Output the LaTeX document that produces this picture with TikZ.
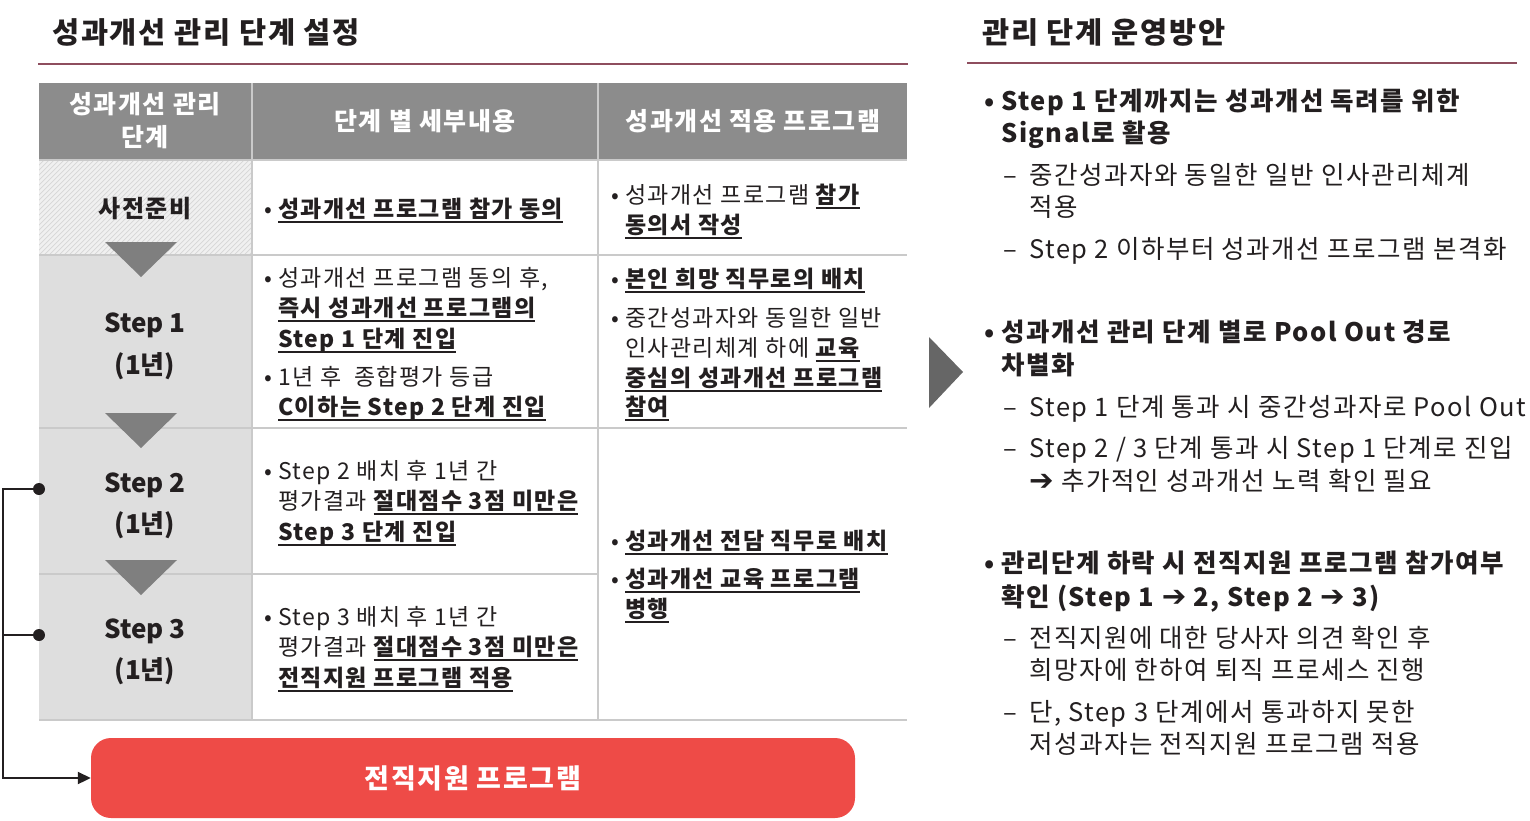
\documentclass[tikz,border=0pt]{standalone}
\usepackage{fontspec}
\setmainfont{Noto Sans CJK KR}[LetterSpace=6]
\newfontfamily\plainf{Noto Sans CJK KR}
\newfontfamily\symf{DejaVu Sans}
\usetikzlibrary{arrows.meta}
\definecolor{txt}{HTML}{231F20}
\definecolor{maroon}{HTML}{8E4E5E}
\definecolor{hdr}{HTML}{8C8C8C}
\definecolor{grid}{HTML}{CACACA}
\definecolor{stepbg}{HTML}{DEDEDE}
\definecolor{tri}{HTML}{7F7F7F}
\definecolor{redbg}{HTML}{EE4B47}
\definecolor{bigtri}{HTML}{666666}
\newcommand\ub[1]{\sbox0{\bfseries #1}\rlap{\rule[-6pt]{\wd0}{1.6pt}}\usebox0}
\newcommand\bul{\llap{•\hspace{6pt}}}
\newcommand\rbul{\llap{•\hspace{7pt}}}
\newcommand\rdash{\llap{–\hspace{12pt}}}
\newcommand\arr{{\symf\scalebox{1.15}{➔}}}
\tikzset{
  bodyL/.style={anchor=base west, inner sep=0pt, text=txt, font=\fontsize{23}{28}\selectfont},
  bodyR/.style={anchor=base west, inner sep=0pt, text=txt, font=\fontsize{25.5}{30}\selectfont},
  boldR/.style={bodyR, font=\fontsize{25.5}{30}\selectfont\bfseries},
  ttl/.style={anchor=base west, inner sep=0pt, text=txt, font=\fontsize{29.5}{34}\selectfont\bfseries},
  hdrtxt/.style={anchor=base, inner sep=0pt, text=white, font=\fontsize{25}{28}\selectfont\bfseries},
  steptxt/.style={anchor=base, inner sep=0pt, text=txt, font=\plainf\fontsize{26}{30}\selectfont\bfseries},
  gridline/.style={draw=grid, line width=2pt},
  conn/.style={draw=txt, line width=2pt},
  downtri/.style={fill=tri},
}
\begin{document}
\begin{tikzpicture}[x=1pt,y=-1pt]
\useasboundingbox (0,0) rectangle (1530,820);
% titles
\node[ttl] (t1) at (52,43) {성과개선 관리 단계 설정};
\node[ttl] (t2) at (982,43) {관리 단계 운영방안};
\draw[maroon, line width=2pt] (38,64) -- (908,64);
\draw[maroon, line width=2pt] (967,63) -- (1517,63);
% table backgrounds
\fill[hdr] (39,83) rectangle (907,160);
\fill[stepbg] (39,255) rectangle (252,720);
\begin{scope}
\clip (39,160) rectangle (252,255);
\fill[white!94!black] (39,160) rectangle (252,255);
\foreach \i in {-100,-95,...,215} \draw[white!84!black, line width=0.7pt] (39+\i,255) -- ++(95,-95);
\end{scope}
% grid
\draw[gridline] (39,160) -- (907,160);
\draw[gridline] (39,255) -- (907,255);
\draw[gridline] (39,428) -- (907,428);
\draw[gridline] (39,574) -- (598,574);
\draw[gridline] (39,720) -- (907,720);
\draw[gridline] (252,83) -- (252,720);
\draw[gridline] (598,83) -- (598,720);
% header text
\node[hdrtxt] (h1a) at (145,113) {성과개선 관리};
\node[hdrtxt] (h1b) at (145,146) {단계};
\node[hdrtxt] (h2) at (425,130) {단계 별 세부내용};
\node[hdrtxt] (h3) at (753,130) {성과개선 적용 프로그램};
% step column
\node[anchor=base, inner sep=0pt, text=txt, font=\fontsize{24}{28}\selectfont\bfseries] (s0) at (145,217) {사전준비};
\fill[downtri] (105,242) -- (177,242) -- (141,277) -- cycle;
\node[steptxt] (s1) at (145,332) {Step 1};
\node[steptxt] (s1y) at (145,374) {(1년)};
\fill[downtri] (105,413) -- (177,413) -- (141,448) -- cycle;
\node[steptxt] (s2) at (145,492) {Step 2};
\node[steptxt] (s2y) at (145,533) {(1년)};
\fill[downtri] (105,560) -- (177,560) -- (141,595) -- cycle;
\node[steptxt] (s3) at (145,638) {Step 3};
\node[steptxt] (s3y) at (145,679) {(1년)};
% column 2
\node[bodyL] (a1) at (278,217) {\bul\ub{성과개선 프로그램 참가 동의}};
\node[bodyL] (a2) at (278,286) {\bul 성과개선 프로그램 동의 후,};
\node[bodyL] (a3) at (278,316) {\ub{즉시 성과개선 프로그램의}};
\node[bodyL] (a4) at (278,347) {\ub{Step 1 단계 진입}};
\node[bodyL] (a5) at (278,385) {\bul 1년 후~ 종합평가 등급};
\node[bodyL] (a6) at (278,415) {\ub{C이하는 Step 2 단계 진입}};
\node[bodyL] (a7) at (278,479) {\bul Step 2 배치 후 1년 간};
\node[bodyL] (a8) at (278,509) {평가결과 \ub{절대점수 3점 미만은}};
\node[bodyL] (a9) at (278,540) {\ub{Step 3 단계 진입}};
\node[bodyL] (a10) at (278,625) {\bul Step 3 배치 후 1년 간};
\node[bodyL] (a11) at (278,655) {평가결과 \ub{절대점수 3점 미만은}};
\node[bodyL] (a12) at (278,686) {\ub{전직지원 프로그램 적용}};
% column 3
\node[bodyL] (b1) at (625,203) {\bul 성과개선 프로그램 \ub{참가}};
\node[bodyL] (b2) at (625,233) {\ub{동의서 작성}};
\node[bodyL] (b3) at (625,287) {\bul\ub{본인 희망 직무로의 배치}};
\node[bodyL] (b4) at (625,326) {\bul 중간성과자와 동일한 일반};
\node[bodyL] (b5) at (625,356) {인사관리체계 하에 \ub{교육}};
\node[bodyL] (b6) at (625,386) {\ub{중심의 성과개선 프로그램}};
\node[bodyL] (b7) at (625,415) {\ub{참여}};
\node[bodyL] (b8) at (625,549) {\bul\ub{성과개선 전담 직무로 배치}};
\node[bodyL] (b9) at (625,587) {\bul\ub{성과개선 교육 프로그램}};
\node[bodyL] (b10) at (625,617) {\ub{병행}};
% red box and connectors
\node[fill=redbg, rounded corners=20pt, minimum width=764pt, minimum height=80pt, inner sep=0pt] (jz) at (473,778) {};
\node[anchor=base, inner sep=0pt, text=white, font=\fontsize{27}{30}\selectfont\bfseries] (jzt) at (473,788) {전직지원 프로그램};
\coordinate (d2) at (39,489);
\coordinate (d3) at (39,635);
\coordinate (lx) at (3,489);
\draw[conn, -{Triangle[length=13pt,width=12pt]}] (d2) -- (lx) |- (jz.west);
\draw[conn] (d3) -- (d3 -| lx);
\fill[txt] (d2) circle (6);
\fill[txt] (d3) circle (6);
% big arrow
\fill[bigtri] (929,337) -- (929,408) -- (963,372) -- cycle;
% right side
\node[boldR] (r1) at (1001,110) {\rbul Step 1 단계까지는 성과개선 독려를 위한};
\node[boldR] (r2) at (1001,142) {Signal로 활용};
\node[bodyR] (r3) at (1029,184) {\rdash 중간성과자와 동일한 일반 인사관리체계};
\node[bodyR] (r4) at (1029,216) {적용};
\node[bodyR] (r5) at (1029,258) {\rdash Step 2 이하부터 성과개선 프로그램 본격화};
\node[boldR] (r6) at (1001,341) {\rbul 성과개선 관리 단계 별로 Pool Out 경로};
\node[boldR] (r7) at (1001,374) {차별화};
\node[bodyR] (r8) at (1029,416) {\rdash Step 1 단계 통과 시 중간성과자로 Pool Out};
\node[bodyR] (r9) at (1029,457) {\rdash Step 2 / 3 단계 통과 시 Step 1 단계로 진입};
\node[bodyR] (r10) at (1029,490) {\arr\ 추가적인 성과개선 노력 확인 필요};
\node[boldR] (r11) at (1001,572) {\rbul 관리단계 하락 시 전직지원 프로그램 참가여부};
\node[boldR] (r12) at (1001,606) {확인 (Step 1 \arr\ 2, Step 2 \arr\ 3)};
\node[bodyR] (r13) at (1029,647) {\rdash 전직지원에 대한 당사자 의견 확인 후};
\node[bodyR] (r14) at (1029,679) {희망자에 한하여 퇴직 프로세스 진행};
\node[bodyR] (r15) at (1029,721) {\rdash 단, Step 3 단계에서 통과하지 못한};
\node[bodyR] (r16) at (1029,753) {저성과자는 전직지원 프로그램 적용};
\end{tikzpicture}
\end{document}
